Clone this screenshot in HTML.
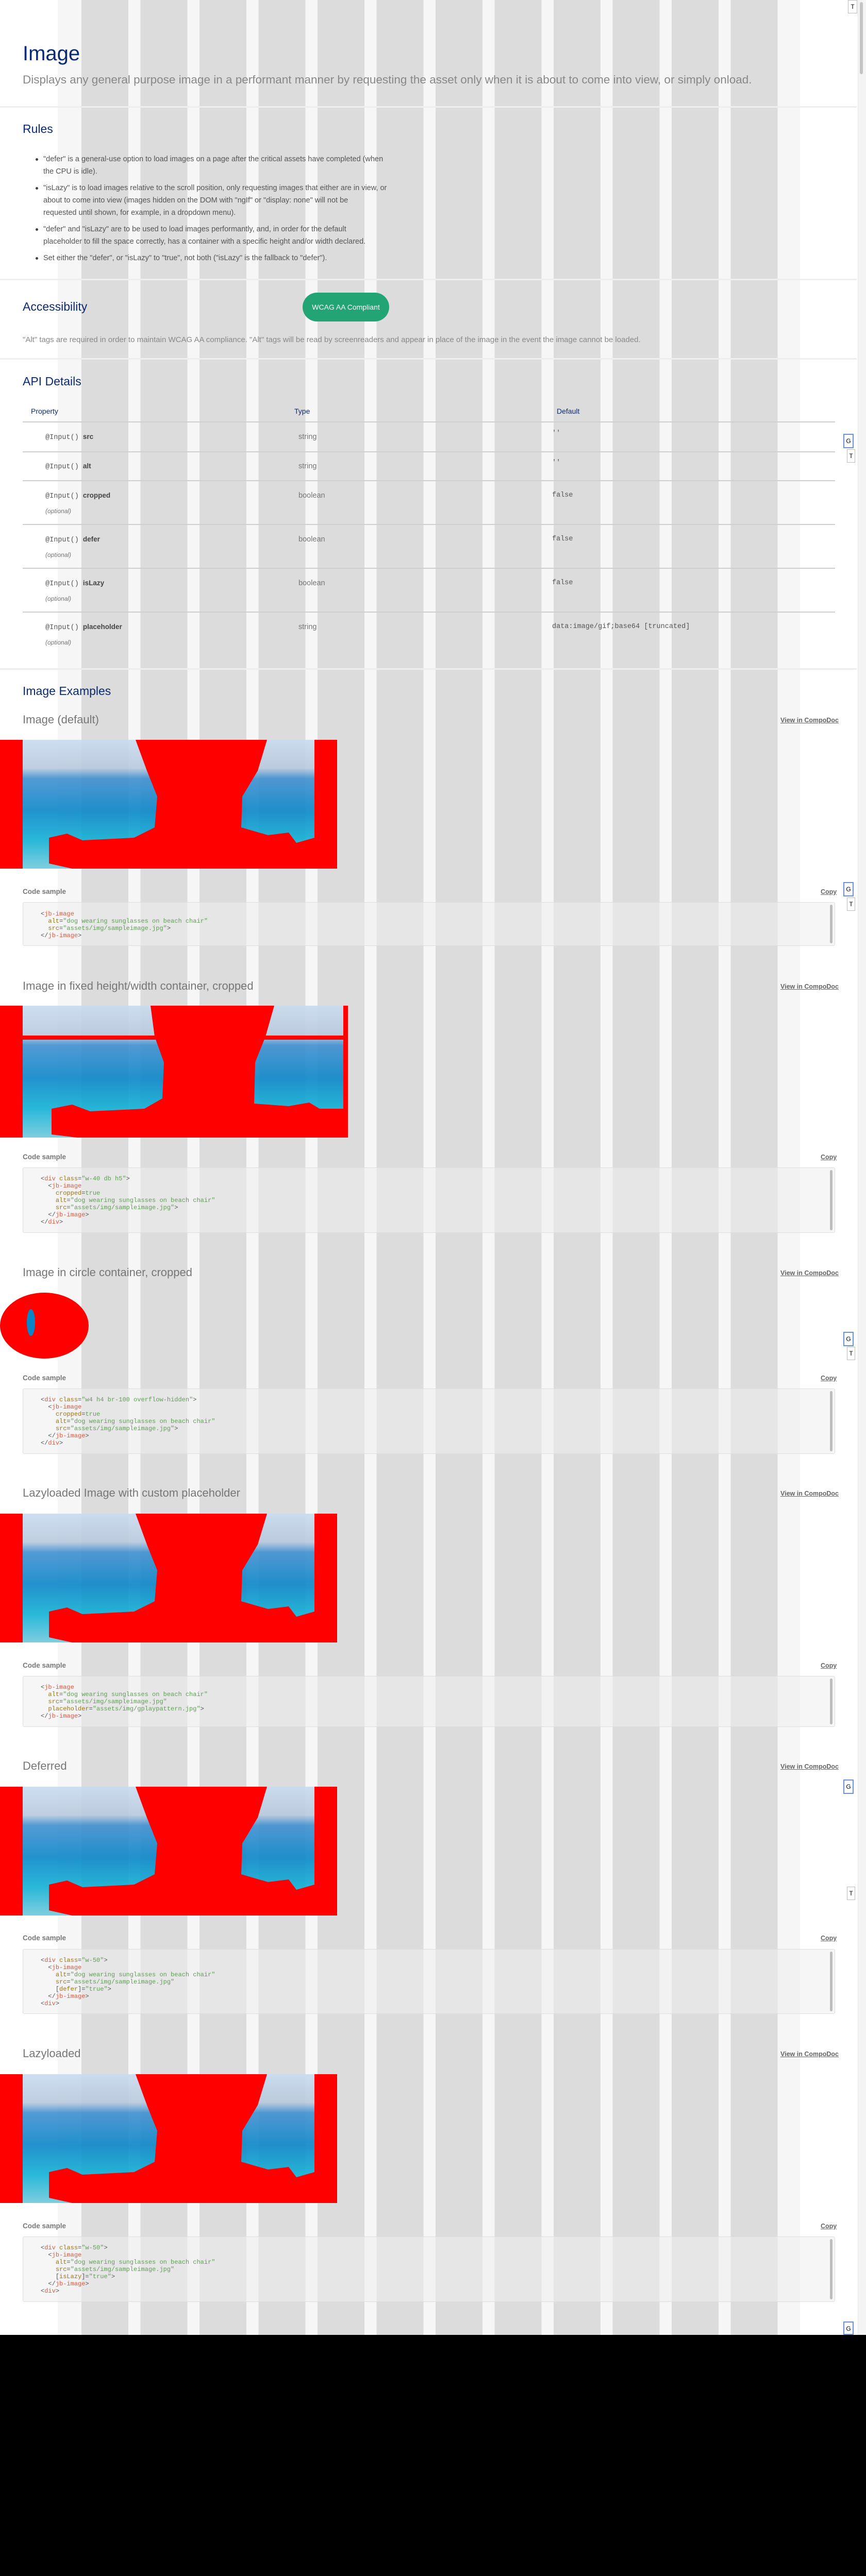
<!DOCTYPE html>
<html style="width:1680px;height:5115px;overflow:hidden"><head><meta charset="utf-8"><style>
*{margin:0;padding:0;box-sizing:border-box}
html,body{width:1680px;height:5115px;overflow:hidden}
body{position:relative;background:#fff;font-family:"Liberation Sans",sans-serif}
.a{position:absolute;white-space:nowrap}
.stripes{position:absolute;left:112px;top:0;width:1440px;height:4532px;background:#f6f6f6}
.stripes div{position:absolute;left:45.5px;top:0;width:1351px;height:100%;background:repeating-linear-gradient(90deg,#dcdcdc 0 91px,#f6f6f6 91px 114.5px)}
.sep{position:absolute;left:0;width:1662px;height:3px;background:#eeeeee}
.h1{color:#0b2a6f;font-size:40px;line-height:48px}
.h2{color:#0b2a6f;font-size:23px;line-height:30px}
.h3{color:#777;font-size:22px;line-height:30px}
.p{color:#888;font-size:15px;line-height:20px}
.rule{color:#555;font-size:14.5px;line-height:20px}
.dot{position:absolute;width:5px;height:5px;border-radius:50%;background:#444}
.th{color:#0b2a6f;font-size:14px;line-height:20px}
.tl{position:absolute;left:44px;width:1576px;height:2px;background:#cfcfcf}
.mono{font-family:"Liberation Mono",monospace}
.prop{font-size:13.5px;line-height:20px;color:#555}
.prop b{font-family:"Liberation Sans",sans-serif;color:#444}
.opt{font-size:12px;color:#777;font-style:italic;line-height:18px}
.link{color:#666;font-size:12.5px;font-weight:bold;text-decoration:underline;line-height:18px}
.cl{color:#777;font-size:13.5px;font-weight:bold;line-height:18px}
.box{position:absolute;left:44px;width:1576px;background:rgba(238,238,238,.55);border:1px solid #dedede;border-radius:3px;overflow:hidden}
.box .sb{position:absolute;right:4px;top:4px;bottom:4px;width:5px;background:#bdbdbd;border-radius:3px}
.code{position:absolute;left:34px;font-family:"Liberation Mono",monospace;font-size:12px;line-height:14px;color:#555;white-space:pre}
.t{color:#e0573f}.n{color:#9a7416}.s{color:#5f9e55}
.img{position:absolute;left:0;display:block}
.w{position:absolute;background:#fff;font-size:12px;text-align:center;line-height:24px}
</style></head><body>
<div class="stripes"><div></div></div>

<div class="a h1" style="left:44px;top:80px">Image</div>
<div class="a" style="left:44px;top:140px;color:#888;font-size:22.5px;line-height:30px">Displays any general purpose image in a performant manner by requesting the asset only when it is about to come into view, or simply onload.</div>
<div class="sep" style="top:206px"></div>

<div class="a h2" style="left:44px;top:235px">Rules</div>
<div class="dot" style="left:69px;top:307px"></div>
<div class="a rule" style="left:84px;top:299px">"defer" is a general-use option to load images on a page after the critical assets have completed (when</div>
<div class="a rule" style="left:84px;top:323px">the CPU is idle).</div>
<div class="dot" style="left:69px;top:363px"></div>
<div class="a rule" style="left:84px;top:355px">"isLazy" is to load images relative to the scroll position, only requesting images that either are in view, or</div>
<div class="a rule" style="left:84px;top:379px">about to come into view (images hidden on the DOM with "ngIf" or "display: none" will not be</div>
<div class="a rule" style="left:84px;top:403px">requested until shown, for example, in a dropdown menu).</div>
<div class="dot" style="left:69px;top:443px"></div>
<div class="a rule" style="left:84px;top:435px">"defer" and "isLazy" are to be used to load images performantly, and, in order for the default</div>
<div class="a rule" style="left:84px;top:459px">placeholder to fill the space correctly, has a container with a specific height and/or width declared.</div>
<div class="dot" style="left:69px;top:499px"></div>
<div class="a rule" style="left:84px;top:491px">Set either the "defer", or "isLazy" to "true", not both ("isLazy" is the fallback to "defer").</div>
<div class="sep" style="top:541px"></div>

<div class="a h2" style="left:44px;top:580px">Accessibility</div>
<div class="a" style="left:587px;top:568px;width:168px;height:56px;border-radius:28px;background:#22a474;color:#fff;font-size:14px;line-height:56px;text-align:center">WCAG AA Compliant</div>
<div class="a p" style="left:44px;top:650px">"Alt" tags are required in order to maintain WCAG AA compliance. "Alt" tags will be read by screenreaders and appear in place of the image in the event the image cannot be loaded.</div>
<div class="sep" style="top:695px"></div>

<div class="a h2" style="left:44px;top:725px">API Details</div>
<div class="a th" style="left:60px;top:788px">Property</div>
<div class="a th" style="left:571px;top:788px">Type</div>
<div class="a th" style="left:1080px;top:788px">Default</div>
<div class="tl" style="top:818px"></div>
<div class="a prop mono" style="left:88px;top:838px">@Input() <b>src</b></div>
<div class="a rule" style="left:579px;top:838px;color:#777">string</div>
<div class="a prop mono" style="left:1071px;top:832px">''</div>
<div class="tl" style="top:876px"></div>
<div class="a prop mono" style="left:88px;top:895px">@Input() <b>alt</b></div>
<div class="a rule" style="left:579px;top:895px;color:#777">string</div>
<div class="a prop mono" style="left:1071px;top:889px">''</div>
<div class="tl" style="top:932px"></div>
<div class="a prop mono" style="left:88px;top:952px">@Input() <b>cropped</b></div>
<div class="a opt" style="left:88px;top:983px">(optional)</div>
<div class="a rule" style="left:579px;top:952px;color:#777">boolean</div>
<div class="a prop mono" style="left:1071px;top:952px">false</div>
<div class="tl" style="top:1017px"></div>
<div class="a prop mono" style="left:88px;top:1037px">@Input() <b>defer</b></div>
<div class="a opt" style="left:88px;top:1068px">(optional)</div>
<div class="a rule" style="left:579px;top:1037px;color:#777">boolean</div>
<div class="a prop mono" style="left:1071px;top:1037px">false</div>
<div class="tl" style="top:1102px"></div>
<div class="a prop mono" style="left:88px;top:1122px">@Input() <b>isLazy</b></div>
<div class="a opt" style="left:88px;top:1153px">(optional)</div>
<div class="a rule" style="left:579px;top:1122px;color:#777">boolean</div>
<div class="a prop mono" style="left:1071px;top:1122px">false</div>
<div class="tl" style="top:1187px"></div>
<div class="a prop mono" style="left:88px;top:1207px">@Input() <b>placeholder</b></div>
<div class="a opt" style="left:88px;top:1238px">(optional)</div>
<div class="a rule" style="left:579px;top:1207px;color:#777">string</div>
<div class="a prop mono" style="left:1071px;top:1207px">data:image/gif;base64 [truncated]</div>
<div class="sep" style="top:1297px"></div>

<div class="a h2" style="left:44px;top:1326px">Image Examples</div>

<!-- Section 1 -->
<div class="a h3" style="left:44px;top:1382px">Image (default)</div>
<div class="a link" style="left:1514px;top:1389px">View in CompoDoc</div>
<svg class="img" style="top:1436px" width="654" height="250" viewBox="0 0 654 250" preserveAspectRatio="none">
<defs><linearGradient id="g" x1="0" y1="0" x2="0" y2="1"><stop offset="0" stop-color="#c9dbf0"/><stop offset=".22" stop-color="#b8c8dc"/><stop offset=".3" stop-color="#3f8fd0"/><stop offset=".55" stop-color="#0a86c8"/><stop offset=".78" stop-color="#10b0d5"/><stop offset="1" stop-color="#70c8dc"/></linearGradient></defs>
<rect x="44" y="0" width="566" height="250" fill="url(#g)" opacity=".9"/>
<path d="M263 0L518 0L500 60L470 110L468 170L520 185L560 180L575 200L610 190L610 250L140 250L95 240L95 190L130 182L160 195L260 190L300 170L305 110L285 60Z" fill="#f00"/>
<rect x="0" y="0" width="44" height="250" fill="#f00"/><rect x="610" y="0" width="44" height="250" fill="#f00"/>
</svg>
<div class="a cl" style="left:44px;top:1722px">Code sample</div>
<div class="a link" style="left:1592px;top:1722px">Copy</div>
<div class="box" style="top:1751px;height:85px"><div class="sb"></div><div class="code" style="top:15px">&lt;<span class="t">jb-image</span>
  <span class="n">alt</span>=<span class="s">"dog wearing sunglasses on beach chair"</span>
  <span class="n">src</span>=<span class="s">"assets/img/sampleimage.jpg"</span>&gt;
&lt;/<span class="t">jb-image</span>&gt;</div></div>

<!-- Section 2 -->
<div class="a h3" style="left:44px;top:1899px">Image in fixed height/width container, cropped</div>
<div class="a link" style="left:1514px;top:1906px">View in CompoDoc</div>
<svg class="img" style="top:1952px" width="675" height="256" viewBox="0 0 675 256" preserveAspectRatio="none">
<rect x="44" y="0" width="622" height="256" fill="url(#g)" opacity=".9"/>
<rect x="44" y="58" width="622" height="8" fill="#f00"/>
<path d="M292 0L532 0L515 60L495 110L493 190L560 195L600 188L620 200L666 200L666 256L150 256L100 250L100 200L140 192L175 205L280 200L315 180L318 110L300 60Z" fill="#f00"/>
<rect x="0" y="0" width="44" height="256" fill="#f00"/><rect x="666" y="0" width="9" height="256" fill="#f00"/>
</svg>
<div class="a cl" style="left:44px;top:2237px">Code sample</div>
<div class="a link" style="left:1592px;top:2237px">Copy</div>
<div class="box" style="top:2266px;height:127px"><div class="sb"></div><div class="code" style="top:14px">&lt;<span class="t">div</span> <span class="n">class</span>=<span class="s">"w-40 db h5"</span>&gt;
  &lt;<span class="t">jb-image</span>
    <span class="n">cropped</span>=<span class="s">true</span>
    <span class="n">alt</span>=<span class="s">"dog wearing sunglasses on beach chair"</span>
    <span class="n">src</span>=<span class="s">"assets/img/sampleimage.jpg"</span>&gt;
  &lt;/<span class="t">jb-image</span>&gt;
&lt;/<span class="t">div</span>&gt;</div></div>

<!-- Section 3 -->
<div class="a h3" style="left:44px;top:2455px">Image in circle container, cropped</div>
<div class="a link" style="left:1514px;top:2462px">View in CompoDoc</div>
<svg class="img" style="top:2509px" width="172" height="128" viewBox="0 0 172 128">
<ellipse cx="86" cy="64" rx="86" ry="64" fill="#f00"/>
<ellipse cx="60" cy="58" rx="8" ry="26" fill="#0a86c8"/>
</svg>
<div class="a cl" style="left:44px;top:2666px">Code sample</div>
<div class="a link" style="left:1592px;top:2666px">Copy</div>
<div class="box" style="top:2695px;height:127px"><div class="sb"></div><div class="code" style="top:14px">&lt;<span class="t">div</span> <span class="n">class</span>=<span class="s">"w4 h4 br-100 overflow-hidden"</span>&gt;
  &lt;<span class="t">jb-image</span>
    <span class="n">cropped</span>=<span class="s">true</span>
    <span class="n">alt</span>=<span class="s">"dog wearing sunglasses on beach chair"</span>
    <span class="n">src</span>=<span class="s">"assets/img/sampleimage.jpg"</span>&gt;
  &lt;/<span class="t">jb-image</span>&gt;
&lt;/<span class="t">div</span>&gt;</div></div>

<!-- Section 4 -->
<div class="a h3" style="left:44px;top:2883px">Lazyloaded Image with custom placeholder</div>
<div class="a link" style="left:1514px;top:2890px">View in CompoDoc</div>
<svg class="img" style="top:2938px" width="654" height="250" viewBox="0 0 654 250" preserveAspectRatio="none">
<rect x="44" y="0" width="566" height="250" fill="url(#g)" opacity=".9"/>
<path d="M263 0L518 0L500 60L470 110L468 170L520 185L560 180L575 200L610 190L610 250L140 250L95 240L95 190L130 182L160 195L260 190L300 170L305 110L285 60Z" fill="#f00"/>
<rect x="0" y="0" width="44" height="250" fill="#f00"/><rect x="610" y="0" width="44" height="250" fill="#f00"/>
</svg>
<div class="a cl" style="left:44px;top:3224px">Code sample</div>
<div class="a link" style="left:1592px;top:3224px">Copy</div>
<div class="box" style="top:3253px;height:99px"><div class="sb"></div><div class="code" style="top:14px">&lt;<span class="t">jb-image</span>
  <span class="n">alt</span>=<span class="s">"dog wearing sunglasses on beach chair"</span>
  <span class="n">src</span>=<span class="s">"assets/img/sampleimage.jpg"</span>
  <span class="n">placeholder</span>=<span class="s">"assets/img/gplaypattern.jpg"</span>&gt;
&lt;/<span class="t">jb-image</span>&gt;</div></div>

<!-- Section 5 -->
<div class="a h3" style="left:44px;top:3413px">Deferred</div>
<div class="a link" style="left:1514px;top:3420px">View in CompoDoc</div>
<svg class="img" style="top:3468px" width="654" height="250" viewBox="0 0 654 250" preserveAspectRatio="none">
<rect x="44" y="0" width="566" height="250" fill="url(#g)" opacity=".9"/>
<path d="M263 0L518 0L500 60L470 110L468 170L520 185L560 180L575 200L610 190L610 250L140 250L95 240L95 190L130 182L160 195L260 190L300 170L305 110L285 60Z" fill="#f00"/>
<rect x="0" y="0" width="44" height="250" fill="#f00"/><rect x="610" y="0" width="44" height="250" fill="#f00"/>
</svg>
<div class="a cl" style="left:44px;top:3753px">Code sample</div>
<div class="a link" style="left:1592px;top:3753px">Copy</div>
<div class="box" style="top:3783px;height:126px"><div class="sb"></div><div class="code" style="top:14px">&lt;<span class="t">div</span> <span class="n">class</span>=<span class="s">"w-50"</span>&gt;
  &lt;<span class="t">jb-image</span>
    <span class="n">alt</span>=<span class="s">"dog wearing sunglasses on beach chair"</span>
    <span class="n">src</span>=<span class="s">"assets/img/sampleimage.jpg"</span>
    [<span class="n">defer</span>]=<span class="s">"true"</span>&gt;
  &lt;/<span class="t">jb-image</span>&gt;
&lt;<span class="t">div</span>&gt;</div></div>

<!-- Section 6 -->
<div class="a h3" style="left:44px;top:3971px">Lazyloaded</div>
<div class="a link" style="left:1514px;top:3978px">View in CompoDoc</div>
<svg class="img" style="top:4026px" width="654" height="250" viewBox="0 0 654 250" preserveAspectRatio="none">
<rect x="44" y="0" width="566" height="250" fill="url(#g)" opacity=".9"/>
<path d="M263 0L518 0L500 60L470 110L468 170L520 185L560 180L575 200L610 190L610 250L140 250L95 240L95 190L130 182L160 195L260 190L300 170L305 110L285 60Z" fill="#f00"/>
<rect x="0" y="0" width="44" height="250" fill="#f00"/><rect x="610" y="0" width="44" height="250" fill="#f00"/>
</svg>
<div class="a cl" style="left:44px;top:4312px">Code sample</div>
<div class="a link" style="left:1592px;top:4312px">Copy</div>
<div class="box" style="top:4341px;height:127px"><div class="sb"></div><div class="code" style="top:14px">&lt;<span class="t">div</span> <span class="n">class</span>=<span class="s">"w-50"</span>&gt;
  &lt;<span class="t">jb-image</span>
    <span class="n">alt</span>=<span class="s">"dog wearing sunglasses on beach chair"</span>
    <span class="n">src</span>=<span class="s">"assets/img/sampleimage.jpg"</span>
    [<span class="n">isLazy</span>]=<span class="s">"true"</span>&gt;
  &lt;/<span class="t">jb-image</span>&gt;
&lt;<span class="t">div</span>&gt;</div></div>

<!-- scrollbar + widgets -->
<div class="a" style="left:1664px;top:0;width:16px;height:4532px;background:#f4f4f4;border-left:1px solid #e6e6e6"></div>
<div class="a" style="left:1668px;top:4px;width:6px;height:140px;background:#c4c4c4;border-radius:3px"></div>
<div class="w" style="left:1645px;top:0;width:18px;height:26px;border:1px solid #bbb">T</div>
<div class="w" style="left:1636px;top:842px;width:20px;height:28px;border:2px solid #6c93d8">G</div>
<div class="w" style="left:1643px;top:872px;width:16px;height:26px;border:1px solid #bbb">T</div>
<div class="w" style="left:1636px;top:1712px;width:20px;height:28px;border:2px solid #6c93d8">G</div>
<div class="w" style="left:1643px;top:1742px;width:16px;height:26px;border:1px solid #bbb">T</div>
<div class="w" style="left:1636px;top:2585px;width:20px;height:28px;border:2px solid #6c93d8">G</div>
<div class="w" style="left:1643px;top:2614px;width:16px;height:26px;border:1px solid #bbb">T</div>
<div class="w" style="left:1636px;top:3454px;width:20px;height:28px;border:2px solid #6c93d8">G</div>
<div class="w" style="left:1643px;top:3662px;width:16px;height:26px;border:1px solid #bbb">T</div>
<div class="w" style="left:1636px;top:4506px;width:20px;height:26px;border:2px solid #6c93d8">G</div>

<div class="a" style="left:0;top:4532px;width:1680px;height:540px;background:#000"></div>
<div class="a" style="left:0;top:5072px;width:1680px;height:43px;background:#f00"></div>
</body></html>
